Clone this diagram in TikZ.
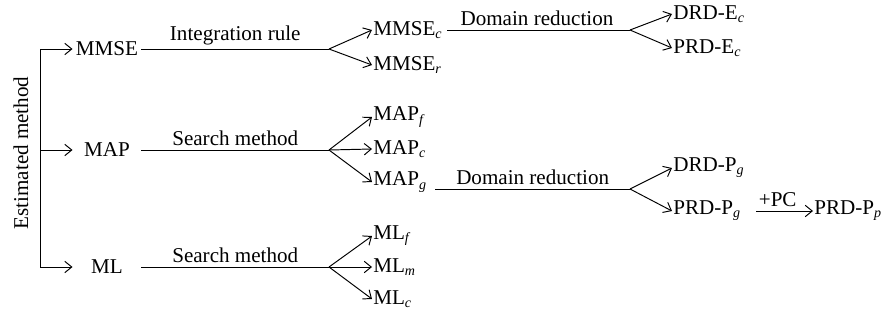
\documentclass[tikz,border=0pt]{standalone}
\usepackage{fontspec}
\setmainfont{Liberation Serif}
\usepackage{tikz}
\usetikzlibrary{arrows.meta}

% Subíndice en cursiva, como en la figura.
\newcommand{\subind}[1]{\textsubscript{\textit{#1}}}

\begin{document}
\begin{tikzpicture}[x = 0.02cm, y = -0.02cm, >={Straight Barb[length = 4pt, width = 6.5pt]}, line width = 0.55pt,
    every node/.style = {font = \fontsize{12}{14}\selectfont},
    metodo/.style = {minimum width = 1.36cm, inner sep = 0pt},
    hoja/.style = {anchor = west, inner sep = 0.5pt},
    etiqueta/.style = {midway, above, inner sep = 2pt}]
    % Columnas de las bifurcaciones y de las hojas.
    \pgfmathsetmacro{\xE}{40}
    \pgfmathsetmacro{\xF}{329}
    \pgfmathsetmacro{\xH}{372}
    \pgfmathsetmacro{\xG}{630}
    \pgfmathsetmacro{\xK}{672}

    \useasboundingbox (0,0) rectangle (890,321);

    % Primero el tronco vertical con su texto:
    \node[rotate = 90] (est) at (21,153) {Estimated method};
    \coordinate (t1) at (\xE, 49);
    \coordinate (t2) at (\xE, 150);
    \coordinate (t3) at (\xE, 267);
    \draw (t1) -- (t3);

    % Los tres estimadores.
    \node[metodo] (mmse) at (107, 49) {MMSE};
    \node[metodo] (map) at (107, 150) {MAP};
    \node[metodo] (ml) at (107, 267) {ML};
    \draw[->] (t1) -- (mmse);
    \draw[->] (t2) -- (map);
    \draw[->] (t3) -- (ml);

    \coordinate (f1) at (\xF, 49);
    \coordinate (f2) at (\xF, 150);
    \coordinate (f3) at (\xF, 267);
    \draw (mmse) -- (f1) node[etiqueta] {Integration rule};
    \draw (map) -- (f2) node[etiqueta] {Search method};
    \draw (ml) -- (f3) node[etiqueta] {Search method};

    % Hojas de cada rama:
    \node[hoja] (mmsec) at (\xH, 30) {MMSE\subind{c}};
    \node[hoja] (mmser) at (\xH, 65) {MMSE\subind{r}};
    \draw[->] (f1) -- (mmsec.west);
    \draw[->] (f1) -- (mmser.west);

    \node[hoja] (mapf) at (\xH, 117) {MAP\subind{f}};
    \node[hoja] (mapc) at (\xH, 149) {MAP\subind{c}};
    \node[hoja] (mapg) at (\xH, 182) {MAP\subind{g}};
    \draw[->] (f2) -- (mapf.west);
    \draw[->] (f2) -- (mapc.west);
    \draw[->] (f2) -- (mapg.west);

    \node[hoja] (mlf) at (\xH, 236) {ML\subind{f}};
    \node[hoja] (mlm) at (\xH, 267) {ML\subind{m}};
    \node[hoja] (mlc) at (\xH, 299) {ML\subind{c}};
    \draw[->] (f3) -- (mlf.west);
    \draw[->] (f3) -- (mlm.west);
    \draw[->] (f3) -- (mlc.west);

    % Reducción del dominio.
    \coordinate (f4) at (\xG, 30);
    \draw[shorten <= 2pt] (mmsec.east) -- (f4) node[etiqueta] {Domain reduction};
    \node[hoja] (drdec) at (\xK, 14) {DRD-E\subind{c}};
    \node[hoja] (prdec) at (\xK, 48) {PRD-E\subind{c}};
    \draw[->] (f4) -- (drdec.west);
    \draw[->] (f4) -- (prdec.west);

    \coordinate (f5) at (\xG, 189);
    \draw (mapg.east |- f5) ++(7,0) coordinate (s5) -- (f5) node[etiqueta] {Domain reduction};
    \node[hoja] (drdpg) at (\xK, 168) {DRD-P\subind{g}};
    \node[hoja] (prdpg) at (\xK, 211) {PRD-P\subind{g}};
    \draw[->] (f5) -- (drdpg.west);
    \draw[->] (f5) -- (prdpg.west);

    \node[hoja] (prdpp) at (813, 211) {PRD-P\subind{p}};
    \draw[->, shorten <= 8pt] (prdpg) -- (prdpp) node[etiqueta] {+PC};
\end{tikzpicture}
\end{document}
